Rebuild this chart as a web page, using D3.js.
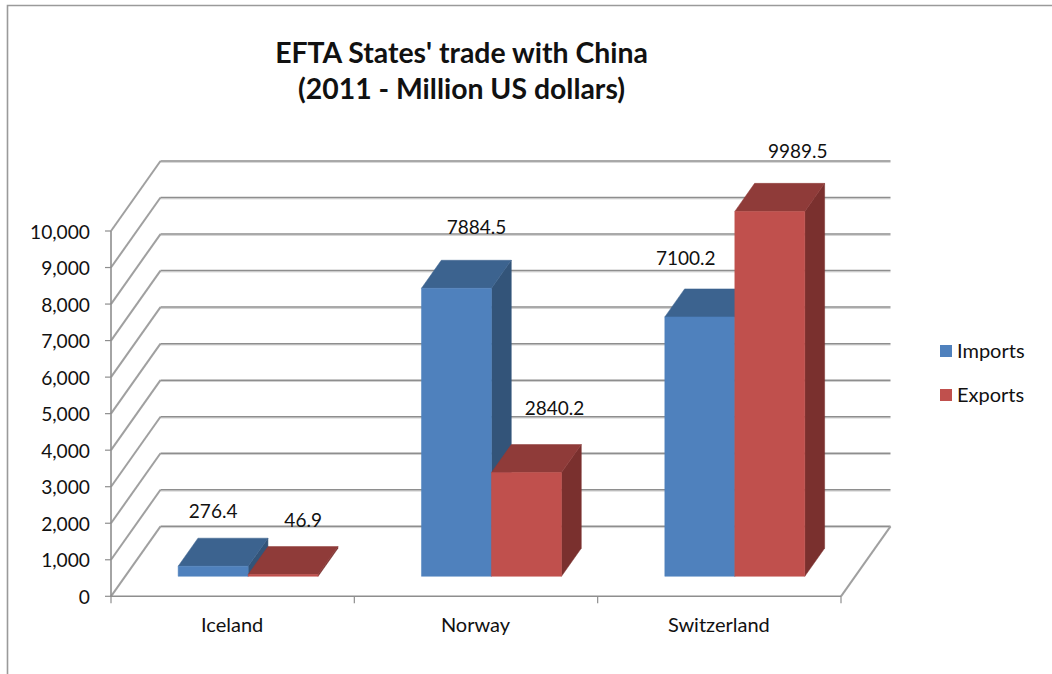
<!DOCTYPE html>
<html>
<head>
<meta charset="utf-8">
<script src="https://cdn.jsdelivr.net/npm/d3@7"></script>
<style>
html,body{margin:0;padding:0;background:#fff;overflow:hidden}
svg{display:block}
text{font-family:Lato,"Open Sans",sans-serif;fill:#111}
</style>
</head>
<body>
<svg id="c" width="1052" height="674"></svg>
<script>
const categories = ["Iceland", "Norway", "Switzerland"];
const seriesNames = ["Imports", "Exports"];
const imports = [276.4, 7884.5, 7100.2];
const exportsV = [46.9, 2840.2, 9989.5];
const yTicks = [0, 1000, 2000, 3000, 4000, 5000, 6000, 7000, 8000, 9000, 10000];
const titleLines = ["EFTA States' trade with China", "(2011 - Million US dollars)"];

const seriesValues = [imports, exportsV];
const frontColors = ["#4f81bd", "#c0504d"];
const topColors = ["#3c638f", "#8f3b39"];
const sideColors = ["#335479", "#7a302e"];
const gridColor = "#8e8e8e";

const svg = d3.select("#c");
const x = d3.scaleBand().domain(categories).range([111, 841]).paddingInner(0).paddingOuter(0);
const xInner = d3.scaleBand().domain(seriesNames).range([53, 193]);
const y = d3.scaleLinear().domain([0, 10000]).range([596.3, 231]);
const depthX = d3.scaleLinear().domain([0, 1]).range([0, 49.5]);
const depthY = d3.scaleLinear().domain([0, 1]).range([0, -70]);
const depthFront = 0.2857, depthBack = 0.686;
const P = (px, v, d) => [px + depthX(d), y(v) + depthY(d)];
const line = d3.line();

const gGrid = svg.append("g");
// chart frame
gGrid.append("path").attr("d", "M7.5,674V5.5H1052").attr("fill", "none").attr("stroke", "#9a9a9a").attr("stroke-width", 1.6);

const [x0, x1] = x.range();
// back wall gridlines and left wall diagonals
yTicks.forEach(t => {
  gGrid.append("path").attr("d", line([P(x0, t, 1), P(x1, t, 1)]))
    .attr("fill", "none").attr("stroke", "#cfcfcf").attr("stroke-width", 1).attr("transform", "translate(0,1.3)");
  gGrid.append("path").attr("d", line([P(x0, t, 0), P(x0, t, 1)]))
    .attr("fill", "none").attr("stroke", "#a0a0a0").attr("stroke-width", 2);
  gGrid.append("path").attr("d", line([P(x0, t, 1), P(x1, t, 1)]))
    .attr("fill", "none").attr("stroke", gridColor).attr("stroke-width", 1.5);
  gGrid.append("path").attr("d", line([[x0 - 6, y(t)], [x0, y(t)]]))
    .attr("stroke", gridColor).attr("stroke-width", 1.2);
  gGrid.append("text").attr("x", 90).attr("y", y(t) + 1).attr("dy", "0.35em").attr("text-anchor", "end")
    .style("font-size", "19.2px").text(d3.format(",")(t));
});
// left axis, floor front, floor right edge
gGrid.append("path").attr("d", line([[x0, y(10000)], [x0, y(0)], [x1, y(0)]]))
  .attr("fill", "none").attr("stroke", gridColor).attr("stroke-width", 1.6);
gGrid.append("path").attr("d", line([[x1, y(0)], P(x1, 0, 1)]))
  .attr("fill", "none").attr("stroke", "#a0a0a0").attr("stroke-width", 2);
// category tick marks
[x0, ...categories.map(c => x(c) + x.bandwidth())].forEach(tx => {
  gGrid.append("path").attr("d", line([[tx, y(0)], [tx, y(0) + 7]])).attr("stroke", gridColor).attr("stroke-width", 1.2);
});

// bars, drawn in category then series order
const gBars = svg.append("g");
const poly = (pts, fill) => gBars.append("polygon").attr("points", pts.map(p => p.join(",")).join(" "))
  .attr("fill", fill).attr("stroke", fill).attr("stroke-width", 0.5);
categories.forEach((c, i) => {
  seriesNames.forEach((s, k) => {
    const v = seriesValues[k][i];
    const L = x(c) + xInner(s), R = L + xInner.bandwidth();
    poly([P(R, 0, depthFront), P(R, 0, depthBack), P(R, v, depthBack), P(R, v, depthFront)], sideColors[k]);
    poly([P(L, v, depthFront), P(L, v, depthBack), P(R, v, depthBack), P(R, v, depthFront)], topColors[k]);
    poly([P(L, 0, depthFront), P(R, 0, depthFront), P(R, v, depthFront), P(L, v, depthFront)], frontColors[k]);
  });
});

// data labels: nudges from the front-top centre of each bar, as placed in the picture
const labelNudgeX = [[0, 20, -14], [20, 28, 28]];
const labelNudgeY = [[-48, -54, -52], [-48, -58, -53]];
const gLabels = svg.append("g");
categories.forEach((c, i) => {
  seriesNames.forEach((s, k) => {
    const v = seriesValues[k][i];
    const L = x(c) + xInner(s), W = xInner.bandwidth();
    const [px, py] = P(L + W / 2, v, depthFront);
    gLabels.append("text").attr("x", px + labelNudgeX[k][i]).attr("y", py + labelNudgeY[k][i])
      .attr("text-anchor", "middle").style("font-size", "19px").text(v.toFixed(1));
  });
});

// category labels
categories.forEach(c => {
  svg.append("text").attr("x", x(c) + x.bandwidth() / 2 - 0.5).attr("y", 632).attr("text-anchor", "middle")
    .style("font-size", "20px").text(c);
});

// title
titleLines.forEach((t, i) => {
  svg.append("text").attr("x", 461.5).attr("y", 63 + i * 36).attr("text-anchor", "middle")
    .style("font-size", "28.4px").style("font-weight", 700).text(t);
});

// legend
const legendY = d3.scalePoint().domain(seriesNames).range([351, 395]);
seriesNames.forEach((s, k) => {
  svg.append("rect").attr("x", 940).attr("y", legendY(s) - 6).attr("width", 12).attr("height", 12).attr("fill", frontColors[k]);
  svg.append("text").attr("x", 957).attr("y", legendY(s)).attr("dy", "0.35em").style("font-size", "20px").text(s);
});
</script>
</body>
</html>
